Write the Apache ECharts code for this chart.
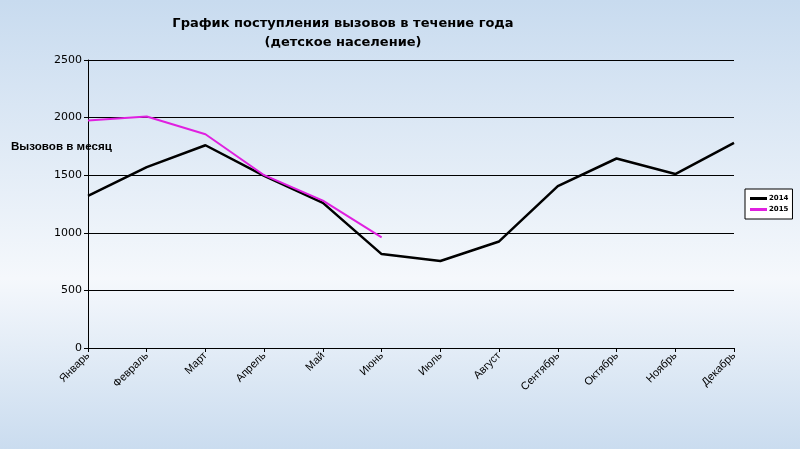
<!DOCTYPE html>
<html>
<head>
<meta charset="utf-8">
<script src="https://cdn.jsdelivr.net/npm/echarts@6/dist/echarts.min.js"></script>
<style>
  html, body { margin: 0; padding: 0; }
  #main { width: 800px; height: 449px; }
</style>
</head>
<body>
<div id="main"></div>
<script>
// месяцы
var months = ['Январь', 'Февраль', 'Март', 'Апрель', 'Май', 'Июнь', 'Июль', 'Август', 'Сентябрь', 'Октябрь', 'Ноябрь', 'Декабрь'];
// вызовы по месяцам
var calls2014 = [1320, 1570, 1760, 1495, 1260, 815, 755, 925, 1405, 1645, 1510, 1780];
var calls2015 = [1975, 2010, 1855, 1500, 1280, 960];
var seriesNames = ['2014', '2015'];

var myChart = echarts.init(document.getElementById('main'));

var option = {
    animation: false,
    backgroundColor: {
        type: 'linear', x: 0, y: 0, x2: 0, y2: 1,
        colorStops: [
            { offset: 0, color: '#c8dbef' },
            { offset: 0.62, color: '#f5f8fc' },
            { offset: 1, color: '#cadcef' }
        ]
    },
    title: {
        text: 'График поступления вызовов в течение года\n(детское население)',
        left: 338,
        top: 9,
        textAlign: 'center',
        textStyle: {
            fontFamily: 'DejaVu Sans',
            fontSize: 13,
            fontWeight: 'bold',
            color: '#000',
            lineHeight: 19
        }
    },
    legend: {
        data: seriesNames,
        orient: 'vertical',
        left: 745,
        top: 189,
        backgroundColor: '#fff',
        borderColor: '#000',
        borderWidth: 1,
        borderRadius: 0,
        padding: [6, 4, 6, 5],
        itemGap: 4,
        itemWidth: 17,
        itemHeight: 3,
        icon: 'rect',
        textStyle: { fontFamily: 'DejaVu Sans', fontSize: 7, fontWeight: 'bold', color: '#000', padding: [0, 0, 0, -3] }
    },
    graphic: [{
        type: 'text',
        left: 11,
        top: 141,
        style: {
            text: 'Вызовов в месяц',
            fontFamily: 'Liberation Sans',
            fontSize: 11.6,
            fontWeight: 'bold',
            fill: '#000'
        }
    }],
    grid: {
        left: 88,
        right: 66,
        top: 60,
        bottom: 101
    },
    xAxis: {
        type: 'category',
        boundaryGap: false,
        data: months,
        axisLine: { lineStyle: { color: '#000', width: 1 } },
        axisTick: { show: true, alignWithLabel: true, length: 4, lineStyle: { color: '#000' } },
        axisLabel: {
            rotate: 45,
            interval: 0,
            margin: 6,
            fontFamily: 'Liberation Sans',
            fontSize: 11,
            color: '#000'
        }
    },
    yAxis: {
        type: 'value',
        min: 0,
        max: 2500,
        interval: 500,
        axisLine: { show: true, lineStyle: { color: '#000', width: 1 } },
        axisTick: { show: true, length: 4, lineStyle: { color: '#000' } },
        axisLabel: {
            margin: 6,
            fontFamily: 'DejaVu Sans',
            fontSize: 11,
            color: '#000',
            formatter: function (v) { return String(v); }
        },
        splitLine: { lineStyle: { color: '#000', width: 1 } }
    },
    series: [
        {
            name: seriesNames[0],
            type: 'line',
            data: calls2014,
            symbol: 'none',
            itemStyle: { color: '#000' },
            lineStyle: { color: '#000', width: 2.5 }
        },
        {
            name: seriesNames[1],
            type: 'line',
            data: calls2015,
            symbol: 'none',
            itemStyle: { color: '#e020e0' },
            lineStyle: { color: '#e020e0', width: 2 }
        }
    ]
};

myChart.setOption(option);
</script>
</body>
</html>
